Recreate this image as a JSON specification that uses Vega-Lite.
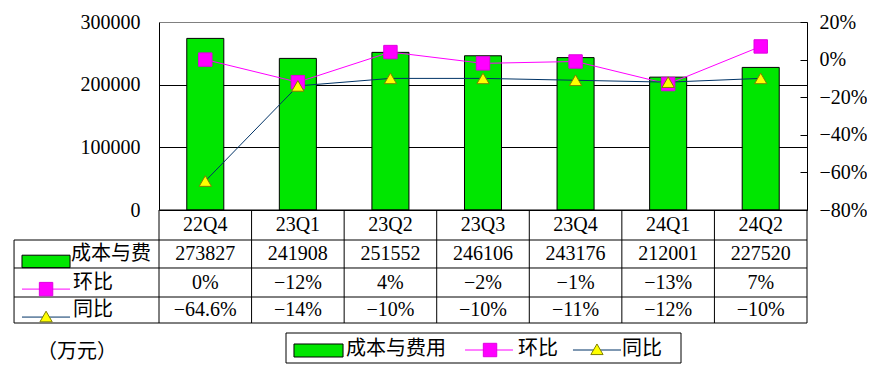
{
  "$schema": "https://vega.github.io/schema/vega-lite/v6.json",
  "background": "white",
  "padding": {"left": 13, "top": 12, "right": 0, "bottom": 0},
  "bounds": "flush",
  "spacing": 0,
  "config": {
    "view": {"stroke": null},
    "axis": {"labelFont": "Liberation Serif", "labelFontSize": 20, "labelColor": "black", "title": null, "labelOverlap": false, "labelFlush": false},
    "text": {"font": "Liberation Serif", "fontSize": 20, "color": "black"}
  },
  "datasets": {
    "main": [
      {"q": "22Q4", "cost": 273827, "hb": 0, "tb": -0.646},
      {"q": "23Q1", "cost": 241908, "hb": -0.12, "tb": -0.14},
      {"q": "23Q2", "cost": 251552, "hb": 0.04, "tb": -0.10},
      {"q": "23Q3", "cost": 246106, "hb": -0.02, "tb": -0.10},
      {"q": "23Q4", "cost": 243176, "hb": -0.01, "tb": -0.11},
      {"q": "24Q1", "cost": 212001, "hb": -0.13, "tb": -0.12},
      {"q": "24Q2", "cost": 227520, "hb": 0.07, "tb": -0.10}
    ]
  },
  "vconcat": [
    {
      "width": 648,
      "height": 188,
      "data": {"name": "main"},
      "resolve": {"scale": {"y": "independent"}},
      "layer": [
        {
          "mark": {"type": "bar", "fill": "#00E600", "stroke": "black", "strokeWidth": 1},
          "encoding": {
            "x": {"field": "q", "type": "nominal", "axis": null, "scale": {"type": "band", "paddingInner": 0.6, "paddingOuter": 0.3}},
            "y": {"field": "cost", "type": "quantitative", "scale": {"domain": [0, 300000], "nice": false},
              "axis": {"orient": "left", "values": [0, 100000, 200000, 300000], "format": "d", "ticks": false, "tickSize": 0, "labelPadding": 19, "labelOverlap": false, "labelFlush": false, "domainColor": "black", "domainWidth": 1, "grid": true, "gridWidth": 1, "gridColor": {"condition": {"test": "datum.value === 300000", "value": "#808080"}, "value": "black"}}}
          }
        },
        {
          "layer": [
            {
              "mark": {"type": "line", "stroke": "#FF00FF", "strokeWidth": 1},
              "encoding": {
                "x": {"field": "q", "type": "nominal"},
                "y": {"field": "hb", "type": "quantitative", "scale": {"domain": [-0.8, 0.2], "nice": false, "zero": false},
                  "axis": {"orient": "right", "values": [-0.8, -0.6, -0.4, -0.2, 0, 0.2], "format": ".0%", "tickSize": -7, "tickColor": "black", "tickWidth": 1, "labelPadding": 19, "labelOverlap": false, "labelFlush": false, "labelSeparation": 0, "domainColor": "black", "domainWidth": 1, "grid": false}}
              }
            },
            {
              "mark": {"type": "line", "stroke": "#003366", "strokeWidth": 1},
              "encoding": {
                "x": {"field": "q", "type": "nominal"},
                "y": {"field": "tb", "type": "quantitative", "scale": {"domain": [-0.8, 0.2], "nice": false, "zero": false},
                  "axis": {"orient": "right", "values": [-0.8, -0.6, -0.4, -0.2, 0, 0.2], "format": ".0%", "tickSize": -7, "tickColor": "black", "tickWidth": 1, "labelPadding": 19, "labelOverlap": false, "labelFlush": false, "labelSeparation": 0, "domainColor": "black", "domainWidth": 1, "grid": false}}
              }
            },
            {
              "mark": {"type": "point", "shape": "square", "size": 180, "filled": true, "fill": "#FF00FF", "stroke": "#E000E0", "strokeWidth": 1, "opacity": 1},
              "encoding": {
                "x": {"field": "q", "type": "nominal"},
                "y": {"field": "hb", "type": "quantitative", "scale": {"domain": [-0.8, 0.2], "nice": false, "zero": false},
                  "axis": {"orient": "right", "values": [-0.8, -0.6, -0.4, -0.2, 0, 0.2], "format": ".0%", "tickSize": -7, "tickColor": "black", "tickWidth": 1, "labelPadding": 19, "labelOverlap": false, "labelFlush": false, "labelSeparation": 0, "domainColor": "black", "domainWidth": 1, "grid": false}}
              }
            },
            {
              "mark": {"type": "point", "shape": "triangle-up", "size": 150, "filled": true, "fill": "#FFFF00", "stroke": "#7F7F00", "strokeWidth": 1, "opacity": 1},
              "encoding": {
                "x": {"field": "q", "type": "nominal"},
                "y": {"field": "tb", "type": "quantitative", "scale": {"domain": [-0.8, 0.2], "nice": false, "zero": false},
                  "axis": {"orient": "right", "values": [-0.8, -0.6, -0.4, -0.2, 0, 0.2], "format": ".0%", "tickSize": -7, "tickColor": "black", "tickWidth": 1, "labelPadding": 19, "labelOverlap": false, "labelFlush": false, "labelSeparation": 0, "domainColor": "black", "domainWidth": 1, "grid": false}}
              }
            }
          ]
        }
      ]
    },
    {
      "width": 648,
      "height": 113,
      "data": {"name": "main"},
      "resolve": {"scale": {"x": "independent"}},
      "layer": [
        {
          "mark": {"type": "text", "baseline": "middle", "align": "center"},
          "encoding": {
            "x": {"field": "q", "type": "nominal", "axis": null, "scale": {"type": "band", "paddingInner": 0, "paddingOuter": 0}},
            "y": {"datum": 0.53, "type": "quantitative", "scale": {"domain": [0, 4], "reverse": true, "nice": false, "zero": false}, "axis": null},
            "text": {"field": "q", "type": "nominal"}
          }
        },
        {
          "mark": {"type": "text", "baseline": "middle", "align": "center"},
          "encoding": {
            "x": {"field": "q", "type": "nominal", "axis": null, "scale": {"type": "band", "paddingInner": 0, "paddingOuter": 0}},
            "y": {"datum": 1.56, "type": "quantitative", "axis": null},
            "text": {"field": "cost", "type": "quantitative", "format": "d"}
          }
        },
        {
          "mark": {"type": "text", "baseline": "middle", "align": "center"},
          "encoding": {
            "x": {"field": "q", "type": "nominal", "axis": null, "scale": {"type": "band", "paddingInner": 0, "paddingOuter": 0}},
            "y": {"datum": 2.57, "type": "quantitative", "axis": null},
            "text": {"field": "hb", "type": "quantitative", "format": ".0%"}
          }
        },
        {
          "mark": {"type": "text", "baseline": "middle", "align": "center"},
          "encoding": {
            "x": {"field": "q", "type": "nominal", "axis": null, "scale": {"type": "band", "paddingInner": 0, "paddingOuter": 0}},
            "y": {"datum": 3.54, "type": "quantitative", "axis": null},
            "text": {"field": "tb", "type": "quantitative", "format": ".1~%"}
          }
        },
        {
          "mark": {"type": "rule", "color": "black", "strokeWidth": 1},
          "encoding": {
            "x": {"field": "q", "type": "nominal", "axis": null, "bandPosition": 0, "scale": {"type": "band", "paddingInner": 0, "paddingOuter": 0}},
            "y": {"datum": 0, "type": "quantitative", "axis": null},
            "y2": {"datum": 4}
          }
        },
        {
          "data": {"values": [{}]},
          "mark": {"type": "rule", "color": "black", "strokeWidth": 1},
          "encoding": {
            "x": {"datum": 7, "type": "quantitative", "axis": null, "scale": {"domain": [0, 7], "nice": false, "zero": false}},
            "y": {"datum": 0, "type": "quantitative", "axis": null},
            "y2": {"datum": 4}
          }
        },
        {
          "data": {"values": [{}]},
          "mark": {"type": "rule", "color": "black", "strokeWidth": 1},
          "encoding": {
            "x": {"datum": -1.566, "type": "quantitative", "axis": null, "scale": {"domain": [0, 7], "nice": false, "zero": false}},
            "y": {"datum": 1.062, "type": "quantitative", "axis": null},
            "y2": {"datum": 4}
          }
        },
        {
          "data": {"values": [{}]},
          "mark": {"type": "rule", "color": "black", "strokeWidth": 1},
          "encoding": {
            "x": {"datum": 0, "type": "quantitative", "axis": null, "scale": {"domain": [0, 7], "nice": false, "zero": false}},
            "x2": {"datum": 7},
            "y": {"datum": 0, "type": "quantitative", "axis": null}
          }
        },
        {
          "data": {"values": [{}]},
          "mark": {"type": "rule", "color": "black", "strokeWidth": 1},
          "encoding": {
            "x": {"datum": -1.566, "type": "quantitative", "axis": null, "scale": {"domain": [0, 7], "nice": false, "zero": false}},
            "x2": {"datum": 7},
            "y": {"datum": 1.062, "type": "quantitative", "axis": null}
          }
        },
        {
          "data": {"values": [{}]},
          "mark": {"type": "rule", "color": "black", "strokeWidth": 1},
          "encoding": {
            "x": {"datum": -1.566, "type": "quantitative", "axis": null, "scale": {"domain": [0, 7], "nice": false, "zero": false}},
            "x2": {"datum": 7},
            "y": {"datum": 2.053, "type": "quantitative", "axis": null}
          }
        },
        {
          "data": {"values": [{}]},
          "mark": {"type": "rule", "color": "black", "strokeWidth": 1},
          "encoding": {
            "x": {"datum": -1.566, "type": "quantitative", "axis": null, "scale": {"domain": [0, 7], "nice": false, "zero": false}},
            "x2": {"datum": 7},
            "y": {"datum": 3.08, "type": "quantitative", "axis": null}
          }
        },
        {
          "data": {"values": [{}]},
          "mark": {"type": "rule", "color": "black", "strokeWidth": 1},
          "encoding": {
            "x": {"datum": -1.566, "type": "quantitative", "axis": null, "scale": {"domain": [0, 7], "nice": false, "zero": false}},
            "x2": {"datum": 7},
            "y": {"datum": 4, "type": "quantitative", "axis": null}
          }
        },
        {
          "data": {"values": [{}]},
          "mark": {"type": "rect", "fill": "#00E600", "stroke": "black", "strokeWidth": 1},
          "encoding": {
            "x": {"datum": -1.48, "type": "quantitative", "axis": null, "scale": {"domain": [0, 7], "nice": false, "zero": false}},
            "x2": {"datum": -0.961},
            "y": {"datum": 1.6, "type": "quantitative", "axis": null},
            "y2": {"datum": 2.04}
          }
        },
        {
          "data": {"values": [{}]},
          "mark": {"type": "rule", "color": "#FF00FF", "strokeWidth": 1},
          "encoding": {
            "x": {"datum": -1.48, "type": "quantitative", "axis": null, "scale": {"domain": [0, 7], "nice": false, "zero": false}},
            "x2": {"datum": -0.961},
            "y": {"datum": 2.8, "type": "quantitative", "axis": null}
          }
        },
        {
          "data": {"values": [{}]},
          "mark": {"type": "point", "shape": "square", "size": 180, "filled": true, "fill": "#FF00FF", "stroke": "#E000E0", "strokeWidth": 1, "opacity": 1},
          "encoding": {
            "x": {"datum": -1.22, "type": "quantitative", "axis": null, "scale": {"domain": [0, 7], "nice": false, "zero": false}},
            "y": {"datum": 2.8, "type": "quantitative", "axis": null}
          }
        },
        {
          "data": {"values": [{}]},
          "mark": {"type": "rule", "color": "#003366", "strokeWidth": 1},
          "encoding": {
            "x": {"datum": -1.48, "type": "quantitative", "axis": null, "scale": {"domain": [0, 7], "nice": false, "zero": false}},
            "x2": {"datum": -0.961},
            "y": {"datum": 3.79, "type": "quantitative", "axis": null}
          }
        },
        {
          "data": {"values": [{}]},
          "mark": {"type": "point", "shape": "triangle-up", "size": 150, "filled": true, "fill": "#FFFF00", "stroke": "#7F7F00", "strokeWidth": 1, "opacity": 1},
          "encoding": {
            "x": {"datum": -1.22, "type": "quantitative", "axis": null, "scale": {"domain": [0, 7], "nice": false, "zero": false}},
            "y": {"datum": 3.77, "type": "quantitative", "axis": null}
          }
        },
        {
          "data": {"values": [{}]},
          "mark": {"type": "text", "text": "成本与费", "font": "Noto Sans CJK SC", "fontSize": 20, "align": "left", "baseline": "middle"},
          "encoding": {
            "x": {"datum": -0.951, "type": "quantitative", "axis": null, "scale": {"domain": [0, 7], "nice": false, "zero": false}},
            "y": {"datum": 1.56, "type": "quantitative", "axis": null}
          }
        },
        {
          "data": {"values": [{}]},
          "mark": {"type": "text", "text": "环比", "font": "Noto Sans CJK SC", "fontSize": 20, "align": "left", "baseline": "middle"},
          "encoding": {
            "x": {"datum": -0.929, "type": "quantitative", "axis": null, "scale": {"domain": [0, 7], "nice": false, "zero": false}},
            "y": {"datum": 2.57, "type": "quantitative", "axis": null}
          }
        },
        {
          "data": {"values": [{}]},
          "mark": {"type": "text", "text": "同比", "font": "Noto Sans CJK SC", "fontSize": 20, "align": "left", "baseline": "middle"},
          "encoding": {
            "x": {"datum": -0.929, "type": "quantitative", "axis": null, "scale": {"domain": [0, 7], "nice": false, "zero": false}},
            "y": {"datum": 3.54, "type": "quantitative", "axis": null}
          }
        },
        {
          "data": {"values": [{}]},
          "mark": {"type": "text", "text": "（万元）", "font": "Noto Sans CJK SC", "fontSize": 20, "align": "center", "baseline": "middle"},
          "encoding": {
            "x": {"datum": -0.886, "type": "quantitative", "axis": null, "scale": {"domain": [0, 7], "nice": false, "zero": false}},
            "y": {"datum": 5.03, "type": "quantitative", "axis": null}
          }
        },
        {
          "data": {"values": [{}]},
          "mark": {"type": "rect", "fill": "white", "stroke": "black", "strokeWidth": 1},
          "encoding": {
            "x": {"datum": 1.372, "type": "quantitative", "axis": null, "scale": {"domain": [0, 7], "nice": false, "zero": false}},
            "x2": {"datum": 5.639},
            "y": {"datum": 4.354, "type": "quantitative", "axis": null},
            "y2": {"datum": 5.416}
          }
        },
        {
          "data": {"values": [{}]},
          "mark": {"type": "rect", "fill": "#00E600", "stroke": "black", "strokeWidth": 1},
          "encoding": {
            "x": {"datum": 1.458, "type": "quantitative", "axis": null, "scale": {"domain": [0, 7], "nice": false, "zero": false}},
            "x2": {"datum": 1.988},
            "y": {"datum": 4.743, "type": "quantitative", "axis": null},
            "y2": {"datum": 5.204}
          }
        },
        {
          "data": {"values": [{}]},
          "mark": {"type": "text", "text": "成本与费用", "font": "Noto Sans CJK SC", "fontSize": 20, "align": "left", "baseline": "middle"},
          "encoding": {
            "x": {"datum": 2.02, "type": "quantitative", "axis": null, "scale": {"domain": [0, 7], "nice": false, "zero": false}},
            "y": {"datum": 4.92, "type": "quantitative", "axis": null}
          }
        },
        {
          "data": {"values": [{}]},
          "mark": {"type": "rule", "color": "#FF00FF", "strokeWidth": 1},
          "encoding": {
            "x": {"datum": 3.306, "type": "quantitative", "axis": null, "scale": {"domain": [0, 7], "nice": false, "zero": false}},
            "x2": {"datum": 3.824},
            "y": {"datum": 4.956, "type": "quantitative", "axis": null}
          }
        },
        {
          "data": {"values": [{}]},
          "mark": {"type": "point", "shape": "square", "size": 180, "filled": true, "fill": "#FF00FF", "stroke": "#E000E0", "strokeWidth": 1, "opacity": 1},
          "encoding": {
            "x": {"datum": 3.576, "type": "quantitative", "axis": null, "scale": {"domain": [0, 7], "nice": false, "zero": false}},
            "y": {"datum": 4.956, "type": "quantitative", "axis": null}
          }
        },
        {
          "data": {"values": [{}]},
          "mark": {"type": "text", "text": "环比", "font": "Noto Sans CJK SC", "fontSize": 20, "align": "left", "baseline": "middle"},
          "encoding": {
            "x": {"datum": 3.878, "type": "quantitative", "axis": null, "scale": {"domain": [0, 7], "nice": false, "zero": false}},
            "y": {"datum": 4.92, "type": "quantitative", "axis": null}
          }
        },
        {
          "data": {"values": [{}]},
          "mark": {"type": "rule", "color": "#003366", "strokeWidth": 1},
          "encoding": {
            "x": {"datum": 4.472, "type": "quantitative", "axis": null, "scale": {"domain": [0, 7], "nice": false, "zero": false}},
            "x2": {"datum": 4.991},
            "y": {"datum": 4.956, "type": "quantitative", "axis": null}
          }
        },
        {
          "data": {"values": [{}]},
          "mark": {"type": "point", "shape": "triangle-up", "size": 150, "filled": true, "fill": "#FFFF00", "stroke": "#7F7F00", "strokeWidth": 1, "opacity": 1},
          "encoding": {
            "x": {"datum": 4.731, "type": "quantitative", "axis": null, "scale": {"domain": [0, 7], "nice": false, "zero": false}},
            "y": {"datum": 4.93, "type": "quantitative", "axis": null}
          }
        },
        {
          "data": {"values": [{}]},
          "mark": {"type": "text", "text": "同比", "font": "Noto Sans CJK SC", "fontSize": 20, "align": "left", "baseline": "middle"},
          "encoding": {
            "x": {"datum": 5.002, "type": "quantitative", "axis": null, "scale": {"domain": [0, 7], "nice": false, "zero": false}},
            "y": {"datum": 4.92, "type": "quantitative", "axis": null}
          }
        }
      ]
    }
  ]
}
